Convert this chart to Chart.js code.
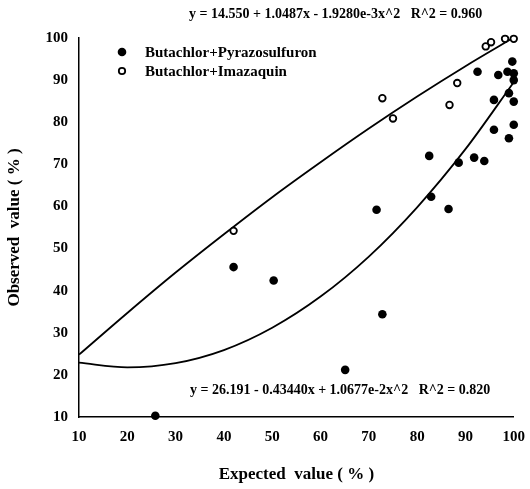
<!DOCTYPE html>
<html>
<head>
<meta charset="utf-8">
<script src="https://cdn.jsdelivr.net/npm/chart.js@4"></script>
<style>
html,body{margin:0;padding:0;background:#fff;}
#wrap{width:530px;height:489px;position:relative;}
</style>
</head>
<body>
<div id="wrap"><canvas id="c" width="530" height="489"></canvas></div>
<script>
// Data
const pyrazoX = [25.8, 42.0, 50.3, 65.1, 71.6, 72.8, 82.5, 82.9, 86.5, 88.6, 91.8, 92.5, 93.9, 95.9, 95.9, 96.8, 98.7, 99.0, 99.0, 99.7, 100, 100, 100, 100];
const pyrazoY = [10.3, 45.6, 42.4, 21.2, 59.2, 34.4, 72.0, 62.3, 59.4, 70.4, 71.6, 92.0, 70.8, 85.3, 78.2, 91.2, 92.0, 86.9, 76.2, 94.4, 91.6, 90.0, 84.9, 79.4];
const imazaX = [42.0, 72.8, 75.0, 86.7, 88.3, 94.2, 95.3, 98.2, 100];
const imazaY = [54.2, 85.7, 80.9, 84.1, 89.3, 98.0, 99.0, 99.8, 99.8];
const curveX = [10, 20, 30, 40, 50, 60, 70, 80, 90, 100];
const upperFit = [24.8, 34.7, 44.3, 53.4, 62.2, 70.5, 78.5, 86.1, 93.3, 100.1];
const lowerFit = [22.9, 21.8, 22.8, 25.9, 31.2, 38.6, 48.1, 59.8, 73.6, 89.5];
const xTicks = [10, 20, 30, 40, 50, 60, 70, 80, 90, 100];
const yTicks = [10, 20, 30, 40, 50, 60, 70, 80, 90, 100];
const seriesNames = ['Butachlor+Pyrazosulfuron', 'Butachlor+Imazaquin'];
const eqUpper = 'y = 14.550 + 1.0487x - 1.9280e-3x^2   R^2 = 0.960';
const eqLower = 'y = 26.191 - 0.43440x + 1.0677e-2x^2   R^2 = 0.820';

const pts = (xs, ys) => xs.map((x, i) => ({x: x, y: ys[i]}));
const FONT = '"Liberation Serif", "Times New Roman", serif';

const textPlugin = {
  id: 'texts',
  afterDraw(chart) {
    const ctx = chart.ctx;
    ctx.save();
    ctx.fillStyle = '#000';
    ctx.font = 'bold 14px ' + FONT;
    ctx.textBaseline = 'middle';
    ctx.textAlign = 'left';
    ctx.fillText(eqUpper, 189, 14);
    ctx.fillText(eqLower, 190, 390);
    // legend
    ctx.font = 'bold 15px ' + FONT;
    ctx.beginPath();
    ctx.arc(122, 52, 4.3, 0, Math.PI * 2);
    ctx.fill();
    ctx.beginPath();
    ctx.lineWidth = 1.8;
    ctx.strokeStyle = '#000';
    ctx.arc(122, 71, 3.2, 0, Math.PI * 2);
    ctx.stroke();
    ctx.fillText(seriesNames[0], 145, 53);
    ctx.fillText(seriesNames[1], 145, 72);
    ctx.restore();
  }
};

new Chart(document.getElementById('c'), {
  type: 'scatter',
  data: {
    datasets: [
      {
        label: seriesNames[0],
        data: pts(pyrazoX, pyrazoY),
        pointRadius: 4.3,
        pointBackgroundColor: '#000',
        pointBorderColor: '#000',
        pointBorderWidth: 0,
        showLine: false,
        clip: false
      },
      {
        label: seriesNames[1],
        data: pts(imazaX, imazaY),
        pointRadius: 3.3,
        pointBackgroundColor: '#fff',
        pointBorderColor: '#000',
        pointBorderWidth: 1.8,
        showLine: false,
        clip: false
      },
      {
        label: 'upper fit',
        data: pts(curveX, upperFit),
        showLine: true,
        pointRadius: 0,
        borderColor: '#000',
        borderWidth: 1.8,
        cubicInterpolationMode: 'monotone',
        clip: false
      },
      {
        label: 'lower fit',
        data: pts(curveX, lowerFit),
        showLine: true,
        pointRadius: 0,
        borderColor: '#000',
        borderWidth: 1.8,
        cubicInterpolationMode: 'monotone',
        clip: false
      }
    ]
  },
  options: {
    responsive: false,
    animation: false,
    layout: {padding: {top: 38, right: 13, left: 0, bottom: 0}},
    plugins: {legend: {display: false}, tooltip: {enabled: false}},
    scales: {
      x: {
        type: 'linear',
        min: 10, max: 100,
        afterBuildTicks(scale) { scale.ticks = xTicks.map(v => ({value: v})); },
        afterFit(scale) { scale.height = 72; },
        grid: {display: false, drawOnChartArea: false, drawTicks: true, tickLength: 6, tickColor: '#000'},
        border: {display: true, color: '#000', width: 1.5},
        ticks: {color: '#000', font: {family: FONT, size: 15, weight: 'bold'}, padding: 5, maxRotation: 0},
        title: {display: true, text: 'Expected  value ( % )', color: '#000', font: {family: FONT, size: 17, weight: 'bold'}, padding: {top: 12}}
      },
      y: {
        type: 'linear',
        min: 10, max: 100,
        afterBuildTicks(scale) { scale.ticks = yTicks.map(v => ({value: v})); },
        afterFit(scale) { scale.width = 79; },
        grid: {display: false, drawOnChartArea: false, drawTicks: true, tickLength: 6, tickColor: '#000'},
        border: {display: true, color: '#000', width: 1.5},
        ticks: {color: '#000', font: {family: FONT, size: 15, weight: 'bold'}, padding: 5},
        title: {display: true, text: 'Observed  value ( % )', color: '#000', font: {family: FONT, size: 17, weight: 'bold'}, padding: {top: 4, bottom: 0}}
      }
    }
  },
  plugins: [textPlugin]
});
</script>
</body>
</html>
